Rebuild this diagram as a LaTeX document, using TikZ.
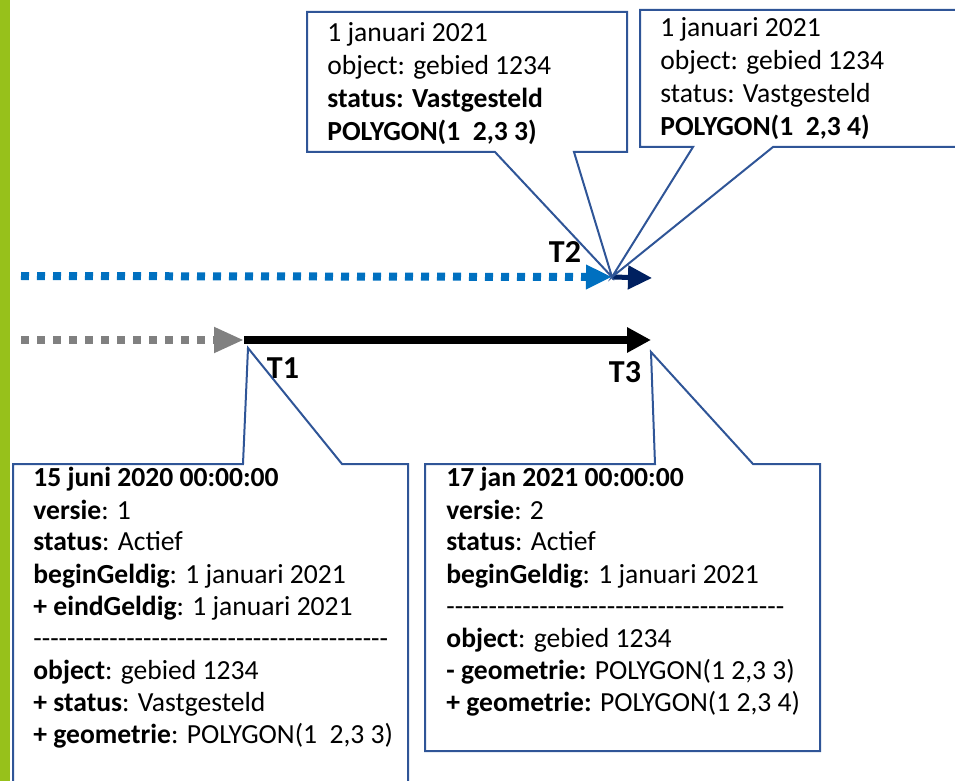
\documentclass[tikz,border=0pt]{standalone}
\usepackage{fontspec}
\setmainfont{Carlito}
\usetikzlibrary{arrows.meta}
\definecolor{barGreen}{HTML}{97C11B}
\definecolor{boxBlue}{HTML}{2F5597}
\definecolor{dotBlue}{HTML}{0070C0}
\definecolor{navyBlue}{HTML}{002060}
\definecolor{dotGray}{HTML}{808080}
\newcommand\myhy[1]{\foreach\hyi in {1,...,#1}{-}}
\tikzset{
  callout/.style={draw=boxBlue, line width=1pt, line join=miter},
  txt/.style={anchor=base west, inner sep=0pt, font=\fontsize{13.8pt}{16pt}\selectfont},
  tlabel/.style={anchor=base, inner sep=0pt, font=\fontsize{16pt}{19pt}\selectfont\bfseries},
  dotline/.style={line width=4pt, dash pattern=on 4pt off 4pt},
}
\begin{document}
\begin{tikzpicture}[x=0.5pt,y=-0.5pt]
\useasboundingbox (0,0) rectangle (955,781);
\clip (0,0) rectangle (955,781);
\fill[barGreen] (0,0) rectangle (10,781);

% key points
\coordinate (bS) at (21,276);
\coordinate (T2tip) at (612,277);
\coordinate (nE) at (652,278);
\coordinate (gS) at (21,340);
\coordinate (T1pt) at (244,340);
\coordinate (T3pt) at (651,340);
\coordinate (T1tip) at (248,348);
\coordinate (T3tip) at (651,352);

% timelines
\draw[dotline, dotBlue, -{Triangle[length=13pt,width=11.5pt]}] (bS) -- (T2tip);
\draw[navyBlue, line width=2.5pt, -{Triangle[length=12pt,width=11.5pt]}] (T2tip) -- (nE);
\draw[dotline, dotGray, -{Triangle[length=15pt,width=12pt]}] (gS) -- (T1pt);
\draw[black, line width=4pt, -{Triangle[length=12pt,width=12pt]}] (T1pt) -- (T3pt);

% labels
\node[tlabel] (lT1) at (283,379) {T1};
\node[tlabel] (lT2) at (565,263) {T2};
\node[tlabel] (lT3) at (625,383) {T3};

% callouts
\draw[callout] (307,12) -- (627,12) -- (627,152) -- (574,152) -- (T2tip) -- (495,152) -- (307,152) -- cycle;
\draw[callout] (640,10) -- (975,10) -- (975,147) -- (773,147) -- (T2tip) -- (693,147) -- (640,147) -- cycle;
\draw[callout] (13,464) -- (243,464) -- (T1tip) -- (342,464) -- (408,464) -- (408,800) -- (13,800) -- cycle;
\draw[callout] (425,464) -- (655,464) -- (T3tip) -- (753,464) -- (820,464) -- (820,751) -- (425,751) -- cycle;

% top-left text
\node[txt] (tl1) at (327,42) {1 januari 2021};
\node[txt] (tl2) at (327,75) {object: gebied 1234};
\node[txt] (tl3) at (327,108) {\bfseries status: Vastgesteld};
\node[txt] (tl4) at (327,141) {\bfseries POLYGON(1\ \ 2,3 3)};

% top-right text
\node[txt] (tr1) at (660,37) {1 januari 2021};
\node[txt] (tr2) at (660,70) {object: gebied 1234};
\node[txt] (tr3) at (660,103) {status: Vastgesteld};
\node[txt] (tr4) at (660,136) {\bfseries POLYGON(1\ \ 2,3 4)};

% bottom-left text
\node[txt] (bl1) at (33,487) {\bfseries 15 juni 2020 00:00:00};
\node[txt] (bl2) at (33,519) {\textbf{versie}: 1};
\node[txt] (bl3) at (33,551) {\textbf{status}: Actief};
\node[txt] (bl4) at (33,583) {\textbf{beginGeldig}: 1 januari 2021};
\node[txt] (bl5) at (33,615) {\textbf{+ eindGeldig}: 1 januari 2021};
\node[txt] (bl6) at (33,647) {\myhy{42}};
\node[txt] (bl7) at (33,679) {\textbf{object}: gebied 1234};
\node[txt] (bl8) at (33,711) {\textbf{+ status}: Vastgesteld};
\node[txt] (bl9) at (33,743) {\textbf{+ geometrie}: POLYGON(1\ \ 2,3 3)};

% bottom-right text
\node[txt] (br1) at (446,487) {\bfseries 17 jan 2021 00:00:00};
\node[txt] (br2) at (446,519) {\textbf{versie}: 2};
\node[txt] (br3) at (446,551) {\textbf{status}: Actief};
\node[txt] (br4) at (446,583) {\textbf{beginGeldig}: 1 januari 2021};
\node[txt] (br5) at (446,615) {\myhy{40}};
\node[txt] (br6) at (446,647) {\textbf{object}: gebied 1234};
\node[txt] (br7) at (446,679) {\textbf{- geometrie:} POLYGON(1 2,3 3)};
\node[txt] (br8) at (446,711) {\textbf{+ geometrie:} POLYGON(1 2,3 4)};
\end{tikzpicture}
\end{document}
